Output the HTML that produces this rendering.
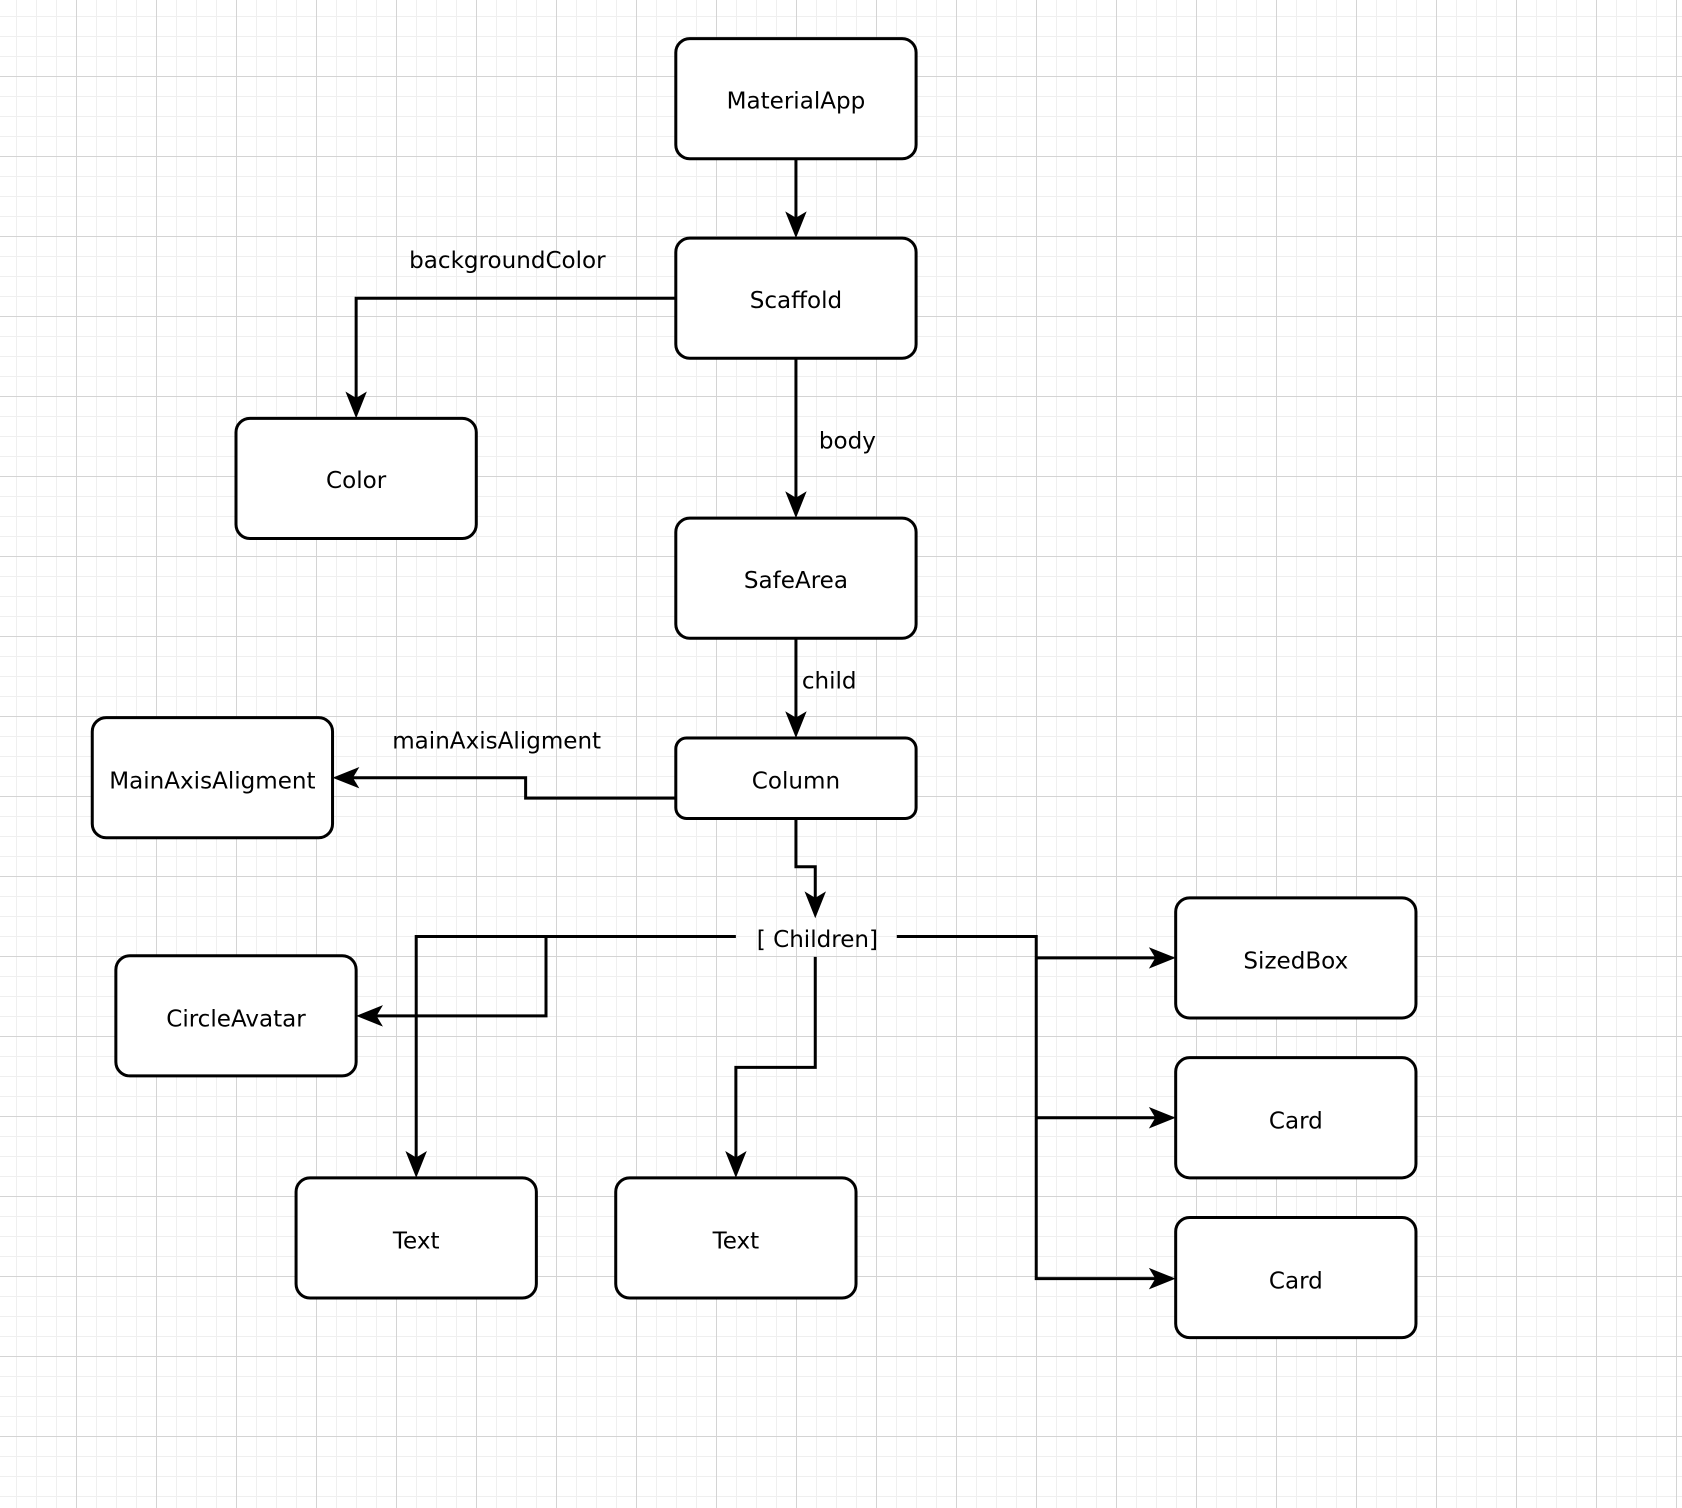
<!DOCTYPE html>
<html><head><meta charset="utf-8"><style>
html,body{margin:0;padding:0}
body{width:1682px;height:1508px;overflow:hidden;background-color:#fff;
background-image:
linear-gradient(to right,#d4d4d4 1px,transparent 1px),
linear-gradient(to bottom,#d4d4d4 1px,transparent 1px),
linear-gradient(to right,#efefef 1px,transparent 1px),
linear-gradient(to bottom,#efefef 1px,transparent 1px);
background-size:80px 80px,80px 80px,20px 20px,20px 20px;
background-position:76px 0,0 76px,16px 0,0 16px;}
svg{position:absolute;left:0;top:0}
text{font-family:"DejaVu Sans","Liberation Sans",sans-serif;font-size:21.5px;fill:#000}
</style></head><body>
<svg width="1682" height="1508" viewBox="0 0 1568 1405.8">
<g fill="#fff" stroke="#000" stroke-width="2.8">
<rect x="630" y="36" width="224" height="112" rx="13"/>
<rect x="630" y="222" width="224" height="112" rx="13"/>
<rect x="220" y="390" width="224" height="112" rx="13"/>
<rect x="630" y="483" width="224" height="112" rx="13"/>
<rect x="630" y="688" width="224" height="75" rx="10"/>
<rect x="86" y="669" width="224" height="112" rx="13"/>
<rect x="1096" y="837" width="224" height="112" rx="13"/>
<rect x="1096" y="986" width="224" height="112" rx="13"/>
<rect x="1096" y="1135" width="224" height="112" rx="13"/>
<rect x="108" y="891" width="224" height="112" rx="13"/>
<rect x="276" y="1098" width="224" height="112" rx="13"/>
<rect x="574" y="1098" width="224" height="112" rx="13"/>
</g>
<g fill="none" stroke="#000" stroke-width="2.8">
<path d="M742 148V210"/>
<path d="M630 278H332V378"/>
<path d="M742 334V471"/>
<path d="M742 595V676"/>
<path d="M630 744H490V725H322"/>
<path d="M742 763V808H760V844"/>
<path d="M686 873H388V1086"/>
<path d="M509 873V947H344"/>
<path d="M760 892V995H686V1086"/>
<path d="M836 873H966V1192H1084"/>
<path d="M966 893H1084"/>
<path d="M966 1042H1084"/>
</g>
<g fill="#000">
<path d="M742 222l-10-25 10 6 10-6z"/>
<path d="M332 390l-10-25 10 6 10-6z"/>
<path d="M742 483l-10-25 10 6 10-6z"/>
<path d="M742 688l-10-25 10 6 10-6z"/>
<path d="M760 856l-10-25 10 6 10-6z"/>
<path d="M388 1098l-10-25 10 6 10-6z"/>
<path d="M686 1098l-10-25 10 6 10-6z"/>
<path d="M310 725l25-10-6 10 6 10z"/>
<path d="M332 947l25-10-6 10 6 10z"/>
<path d="M1096 893l-25-10 6 10-6 10z"/>
<path d="M1096 1042l-25-10 6 10-6 10z"/>
<path d="M1096 1192l-25-10 6 10-6 10z"/>
</g>
<g text-anchor="middle">
<text x="742" y="101">MaterialApp</text>
<text x="742" y="287">Scaffold</text>
<text x="332" y="455">Color</text>
<text x="742" y="548">SafeArea</text>
<text x="742" y="735">Column</text>
<text x="198" y="735">MainAxisAligment</text>
<text x="1208" y="903">SizedBox</text>
<text x="1208" y="1052">Card</text>
<text x="1208" y="1201">Card</text>
<text x="220" y="957">CircleAvatar</text>
<text x="388" y="1164">Text</text>
<text x="686" y="1164">Text</text>
<text x="473" y="250">backgroundColor</text>
<text x="790" y="418">body</text>
<text x="773" y="642">child</text>
<text x="463" y="698">mainAxisAligment</text>
<text x="762" y="883">[ Children]</text>
</g>
</svg>
</body></html>
